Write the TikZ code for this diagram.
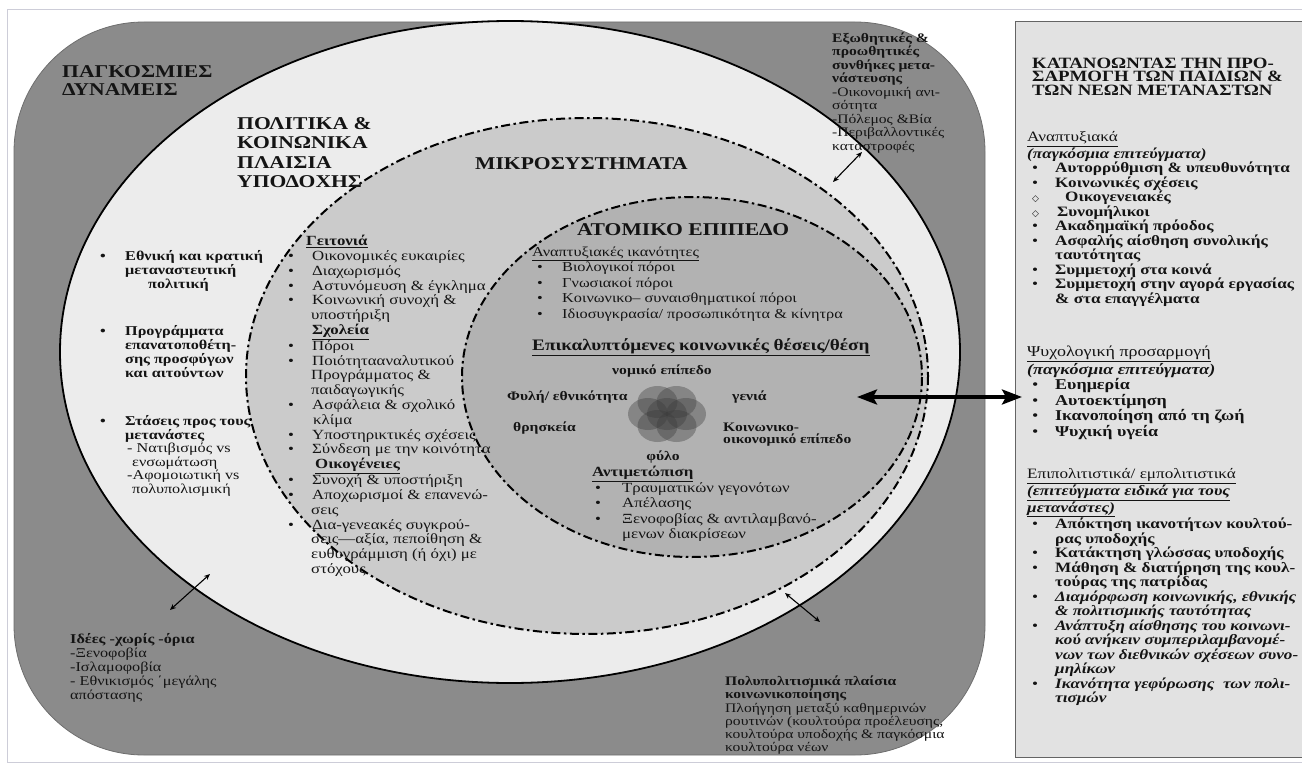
\documentclass[tikz,border=0pt]{standalone}
\usepackage{fontspec}
\setmainfont{Liberation Serif}[FakeStretch=1.2]
\newfontfamily\symf{DejaVu Sans}
\usetikzlibrary{arrows.meta}
\definecolor{darkreg}{RGB}{139,139,139}
\definecolor{lightreg}{RGB}{236,236,236}
\definecolor{midreg}{RGB}{203,203,203}
\definecolor{innerreg}{RGB}{178,178,178}
\definecolor{panelc}{RGB}{226,226,226}
\definecolor{framec}{RGB}{205,205,216}
\definecolor{inkc}{RGB}{20,20,20}
\newcommand\myst{\rule{0pt}{0.75em}}
\newcommand\fsz[2]{\fontsize{#1}{#2}\selectfont}
\newcommand\bitem[1]{\hspace*{5pt}\makebox[23pt][l]{•}\textbf{#1}}
\newcommand\biitem[1]{\hspace*{5pt}\makebox[23pt][l]{•}\textbf{\textit{#1}}}
\newcommand\bcont[1]{\hspace*{28pt}\textbf{#1}}
\newcommand\bicont[1]{\hspace*{28pt}\textbf{\textit{#1}}}
\newcommand\ditem[2]{\hspace*{5pt}\makebox[#1][l]{\symf\fontsize{9}{9}\selectfont ◇}\textbf{#2}}
\newcommand\mitem[1]{\makebox[24pt][l]{•}#1}
\newcommand\mcont[1]{\hspace*{23pt}#1}
\begin{document}
\begin{tikzpicture}[x=1pt,y=-1pt,
  txt/.style={anchor=north west,inner sep=0pt,align=left,text=inkc},
  dashdot/.style={line width=2pt,dash pattern=on 9pt off 3.5pt on 2.5pt off 3.5pt},
  smallarrow/.style={line width=1.1pt,{Stealth[length=6pt,width=5pt]}-{Stealth[length=6pt,width=5pt]}},
  bigarrow/.style={line width=3.5pt,{Stealth[length=20pt,width=15pt,inset=4pt]}-{Stealth[length=20pt,width=15pt,inset=4pt]}},
  petal/.style={fill={rgb,255:red,60;green,60;blue,60},fill opacity=0.38}]
\useasboundingbox (0,0) rectangle (1302,765);
\fill[white] (0,0) rectangle (1302,765);
% frame
\draw[framec,line width=1pt] (1320,10) -- (7,10) -- (7,762) -- (1320,762);
% outer dark region
\draw[fill=darkreg,draw={rgb,255:red,110;green,110;blue,110},line width=0.8pt,rounded corners=130pt] (14,22) rectangle (985,755);
% right panel
\draw[fill=panelc,draw={rgb,255:red,100;green,100;blue,100},line width=1pt] (1015,22) rectangle (1330,757);
% ellipses
\draw[fill=lightreg,line width=1.8pt] (510,352) ellipse [x radius=450,y radius=331];
\draw[fill=midreg,dashdot] (587,376) ellipse [x radius=341,y radius=258];
\draw[fill=innerreg,dashdot] (692,377) ellipse [x radius=230,y radius=180];
% petals
\foreach \dx/\dy in {-19/0,19/0,-9.5/-12,9.5/-12,-9.5/12,9.5/12,0/0}
  \fill[petal] (667+\dx,414+\dy) ellipse [x radius=20,y radius=16];
\node[inner sep=0pt] (flower) at (667,414) {};
% titles
\node[txt,font=\bfseries\fsz{18}{18}] (global) at (62,63.4) {\myst ΠΑΓΚΟΣΜΙΕΣ\\ΔΥΝΑΜΕΙΣ};
\node[txt,font=\bfseries\fsz{18}{19.5}] (polit) at (237,115.4) {\myst ΠΟΛΙΤΙΚΑ \&\\ΚΟΙΝΩΝΙΚΑ\\ΠΛΑΙΣΙΑ\\ΥΠΟΔΟΧΗΣ};
\node[txt,font=\bfseries\fsz{18}{18}] (micro) at (475,155.4) {\myst ΜΙΚΡΟΣΥΣΤΗΜΑΤΑ};
\node[txt,font=\bfseries\fsz{18}{18}] (atom) at (577,221.4) {\myst ΑΤΟΜΙΚΟ ΕΠΙΠΕΔΟ};
% right panel texts
\node[txt,font=\bfseries\fsz{15.7}{13.5}] (ptitle) at (1032,56.5) {\myst ΚΑΤΑΝΟΩΝΤΑΣ ΤΗΝ ΠΡΟ-\\ΣΑΡΜΟΓΗ ΤΩΝ ΠΑΙΔΙΩΝ \&\\ΤΩΝ ΝΕΩΝ ΜΕΤΑΝΑΣΤΩΝ};
\node[txt,font=\fsz{14.3}{14.5}] (sec1) at (1027,131) {\myst\underline{Αναπτυξιακά}\\
\textbf{\textit{(παγκόσμια επιτεύγματα)}}\\
\bitem{Αυτορρύθμιση \& υπευθυνότητα}\\
\bitem{Κοινωνικές σχέσεις}\\
\ditem{33pt}{Οικογενειακές}\\
\ditem{25pt}{Συνομήλικοι}\\
\bitem{Ακαδημαϊκή πρόοδος}\\
\bitem{Ασφαλής αίσθηση συνολικής}\\
\bcont{ταυτότητας}\\
\bitem{Συμμετοχή στα κοινά}\\
\bitem{Συμμετοχή στην αγορά εργασίας}\\
\bcont{\& στα επαγγέλματα}};
\node[txt,font=\fsz{15}{15.5}] (sec2) at (1027,345.5) {\myst\underline{Ψυχολογική προσαρμογή}\\
\textbf{\textit{(παγκόσμια επιτεύγματα)}}\\
\bitem{Ευημερία}\\
\bitem{Αυτοεκτίμηση}\\
\bitem{Ικανοποίηση από τη ζωή}\\
\bitem{Ψυχική υγεία}};
\node[txt,font=\fsz{14.3}{14.5}] (sec3) at (1027,468) {\myst\underline{Επιπολιτιστικά/ εμπολιτιστικά}\\
\underline{\textbf{\textit{(επιτεύγματα ειδικά για τους}}}\\
\underline{\textbf{\textit{μετανάστες)}}}\\
\bitem{Απόκτηση ικανοτήτων κουλτού-}\\
\bcont{ρας υποδοχής}\\
\bitem{Κατάκτηση γλώσσας υποδοχής}\\
\bitem{Μάθηση \& διατήρηση της κουλ-}\\
\bcont{τούρας της πατρίδας}\\
\biitem{Διαμόρφωση κοινωνικής, εθνικής}\\
\bicont{\& πολιτισμικής ταυτότητας}\\
\biitem{Ανάπτυξη αίσθησης του κοινωνι-}\\
\bicont{κού ανήκειν συμπεριλαμβανομέ-}\\
\bicont{νων των διεθνικών σχέσεων συνο-}\\
\bicont{μηλίκων}\\
\biitem{Ικανότητα γεφύρωσης\ \ των πολι-}\\
\bicont{τισμών}};
% left (political) texts
\node[txt,font=\bfseries\fsz{13.5}{12}] (leftA) at (100,250.2) {\myst\makebox[25pt][l]{•}Εθνική και κρατική\\
\hspace*{25pt}μεταναστευτική\\
\hspace*{48pt}πολιτική};
\node[txt,font=\bfseries\fsz{13.5}{12.7}] (leftB) at (100,325.2) {\myst\makebox[25pt][l]{•}Προγράμματα\\
\hspace*{25pt}επανατοποθέτη-\\
\hspace*{25pt}σης προσφύγων\\
\hspace*{25pt}και αιτούντων};
\node[txt,font=\fsz{13.5}{12}] (leftC) at (100,415.2) {\myst\textbf{\makebox[25pt][l]{•}Στάσεις προς τους}\\
\hspace*{25pt}\textbf{μετανάστες}\\
\hspace*{27pt}- Νατιβισμός vs\\
\hspace*{32pt}ενσωμάτωση\\
\hspace*{27pt}-Αφομοιωτική vs\\
\hspace*{32pt}πολυπολισμική};
% microsystem texts
\node[txt,font=\fsz{14}{14.8}] (microlist) at (288,235) {\myst\hspace*{18pt}\textbf{\underline{Γειτονιά}}\\
\mitem{Οικονομικές ευκαιρίες}\\
\mitem{Διαχωρισμός}\\
\mitem{Αστυνόμευση \& έγκλημα}\\
\mitem{Κοινωνική συνοχή \&}\\
\mcont{υποστήριξη}\\
\hspace*{24pt}\textbf{\underline{Σχολεία}}\\
\mitem{Πόροι}\\
\mitem{Ποιότητααναλυτικού}\\
\mcont{Προγράμματος \&}\\
\mcont{παιδαγωγικής}\\
\mitem{Ασφάλεια \& σχολικό}\\
\hspace*{25pt}κλίμα\\
\mitem{Υποστηρικτικές σχέσεις}\\
\mitem{Σύνδεση με την κοινότητα}\\
\hspace*{27pt}\textbf{\underline{Οικογένειες}}\\
\mitem{Συνοχή \& υποστήριξη}\\
\mitem{Αποχωρισμοί \& επανενώ-}\\
\mcont{σεις}\\
\mitem{Δια-γενεακές συγκρού-}\\
\mcont{σεις—αξία, πεποίθηση \&}\\
\mcont{ευθυγράμμιση (ή όχι) με}\\
\mcont{στόχους}};
% individual level texts
\node[txt,font=\fsz{13.6}{15.5}] (devcap) at (532,246) {\myst\underline{Αναπτυξιακές ικανότητες}\\
\hspace*{5pt}\makebox[25pt][l]{•}Βιολογικοί πόροι\\
\hspace*{5pt}\makebox[25pt][l]{•}Γνωσιακοί πόροι\\
\hspace*{5pt}\makebox[25pt][l]{•}Κοινωνικο– συναισθηματικοί πόροι\\
\hspace*{5pt}\makebox[25pt][l]{•}Ιδιοσυγκρασία/ προσωπικότητα \& κίνητρα};
\node[txt,font=\bfseries\fsz{16}{16}] (overlap) at (532,338.5) {\myst\underline{Επικαλυπτόμενες κοινωνικές θέσεις/θέση}};
\node[txt,anchor=north,font=\bfseries\fsz{13}{12.5}] (legal) at (662,364.5) {\myst νομικό επίπεδο};
\node[txt,font=\bfseries\fsz{13}{12.5}] (race) at (507,390.5) {\myst Φυλή/ εθνικότητα};
\node[txt,font=\bfseries\fsz{13}{12.5}] (gen) at (732,390.5) {\myst γενιά};
\node[txt,font=\bfseries\fsz{13}{12.5}] (relig) at (513,421.5) {\myst θρησκεία};
\node[txt,font=\bfseries\fsz{13}{12.5}] (ses) at (723,421.5) {\myst Κοινωνικο-\\οικονομικό επίπεδο};
\node[txt,anchor=north,font=\bfseries\fsz{13}{12.5}] (gender) at (663,450.5) {\myst φύλο};
\node[txt,font=\fsz{14}{15.5}] (coping) at (592,466) {\myst\textbf{\underline{Αντιμετώπιση}}\\
\hspace*{3pt}\makebox[27pt][l]{•}Τραυματικών γεγονότων\\
\hspace*{3pt}\makebox[27pt][l]{•}Απέλασης\\
\hspace*{3pt}\makebox[27pt][l]{•}Ξενοφοβίας \& αντιλαμβανό-\\
\hspace*{30pt}μενων διακρίσεων};
% outer notes
\node[txt,font=\fsz{13}{13.5}] (push) at (832,32.5) {\myst\textbf{Εξωθητικές \&}\\
\textbf{προωθητικές}\\
\textbf{συνθήκες μετα-}\\
\textbf{νάστευσης}\\
-Οικονομική ανι-\\
σότητα\\
-Πόλεμος \&Βία\\
-Περιβαλλοντικές\\
καταστροφές};
\node[txt,font=\fsz{13.5}{14}] (ideas) at (70,633.3) {\myst\textbf{Ιδέες -χωρίς -όρια}\\
-Ξενοφοβία\\
-Ισλαμοφοβία\\
- Εθνικισμός ΄μεγάλης\\
απόστασης};
\node[txt,font=\fsz{13}{13.3}] (multi) at (725,675.5) {\myst\textbf{Πολυπολιτισμικά πλαίσια}\\
\textbf{κοινωνικοποίησης}\\
Πλοήγηση μεταξύ καθημερινών\\
ρουτινών (κουλτούρα προέλευσης,\\
κουλτούρα υποδοχής \& παγκόσμια\\
κουλτούρα νέων};
% arrows
\coordinate (bigL) at (857,397);
\coordinate (bigR) at (1022,397);
\draw[bigarrow] (bigL) -- (bigR);
\coordinate (trA) at (833,182);
\coordinate (trB) at (862,152);
\draw[smallarrow] (trA) -- (trB);
\coordinate (blA) at (170,610);
\coordinate (blB) at (210,574);
\draw[smallarrow] (blA) -- (blB);
\coordinate (bmA) at (785,593);
\coordinate (bmB) at (820,622);
\draw[smallarrow] (bmA) -- (bmB);
\end{tikzpicture}
\end{document}
